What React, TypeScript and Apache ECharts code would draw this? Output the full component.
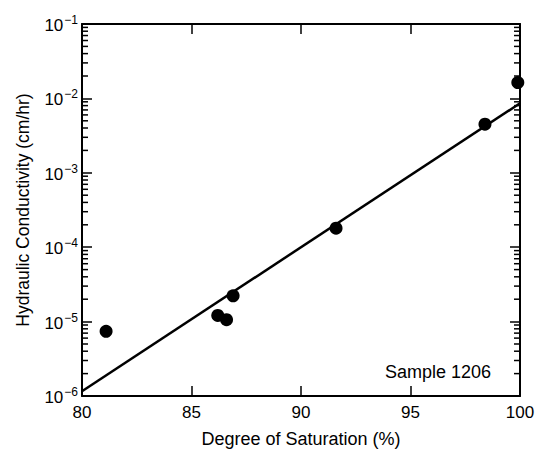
import React, { useEffect, useRef } from "react";
import * as echarts from "echarts";

const saturation = [81.1, 86.2, 86.6, 86.9, 91.6, 98.4, 99.9];
const conductivity = [7.4e-6, 1.21e-5, 1.06e-5, 2.22e-5, 1.8e-4, 4.5e-3, 1.63e-2];
const fitX = [80, 100];
const fitY = [1.16e-6, 8.6e-3];
const minorTickValues = [
  2e-6, 3e-6, 4e-6, 5e-6, 6e-6, 7e-6, 8e-6, 9e-6,
  2e-5, 3e-5, 4e-5, 5e-5, 6e-5, 7e-5, 8e-5, 9e-5,
  2e-4, 3e-4, 4e-4, 5e-4, 6e-4, 7e-4, 8e-4, 9e-4,
  2e-3, 3e-3, 4e-3, 5e-3, 6e-3, 7e-3, 8e-3, 9e-3,
  2e-2, 3e-2, 4e-2, 5e-2, 6e-2, 7e-2, 8e-2, 9e-2,
];
const sampleLabel = "Sample 1206";

const FONT = "Liberation Sans, Arial, Helvetica, sans-serif";

export default function App() {
  const ref = useRef<HTMLDivElement>(null);
  useEffect(() => {
    if (!ref.current) return;
    document.body.style.margin = "0";
    document.body.style.overflow = "hidden";
    const chart = echarts.init(ref.current, undefined, { renderer: "svg" });
    const axisLine = { show: true, lineStyle: { color: "#000", width: 2 } };
    const majorTick = { show: true, inside: true, length: 10, lineStyle: { color: "#000", width: 1.5 } };
    const yLabel = {
      show: true,
      margin: 4,
      formatter: (v: number) => {
        const e = Math.round(Math.log10(v));
        return `{b|10}{s|${e < 0 ? "\u2212" : ""}${Math.abs(e)}}`;
      },
      rich: {
        b: { fontSize: 17, fontFamily: FONT, color: "#000", verticalAlign: "bottom" },
        s: { fontSize: 12, fontFamily: FONT, color: "#000", verticalAlign: "bottom", padding: [0, 0, 8, 1] },
      },
    };
    chart.setOption({
      animation: false,
      backgroundColor: "#fff",
      grid: { left: 82, right: 19, top: 24, bottom: 50, containLabel: false },
      xAxis: [
        {
          type: "value",
          min: 80,
          max: 100,
          interval: 5,
          position: "bottom",
          name: "Degree of Saturation (%)",
          nameLocation: "middle",
          nameGap: 34,
          nameTextStyle: { fontSize: 18, fontFamily: FONT, color: "#000" },
          axisLine,
          axisTick: majorTick,
          axisLabel: { fontSize: 17, fontFamily: FONT, color: "#000", margin: 8 },
          splitLine: { show: false },
        },
        {
          type: "value",
          min: 80,
          max: 100,
          interval: 5,
          position: "top",
          axisLine,
          axisTick: majorTick,
          axisLabel: { show: false },
          splitLine: { show: false },
        },
      ],
      yAxis: [
        {
          type: "log",
          logBase: 10,
          min: 1e-6,
          max: 1e-1,
          position: "left",
          name: "Hydraulic Conductivity (cm/hr)",
          nameLocation: "middle",
          nameGap: 50,
          nameTextStyle: { fontSize: 17.5, fontFamily: FONT, color: "#000" },
          axisLine,
          axisTick: majorTick,
          axisLabel: yLabel,
          splitLine: { show: false },
        },
        {
          type: "log",
          logBase: 10,
          min: 1e-6,
          max: 1e-1,
          position: "right",
          axisLine,
          axisTick: majorTick,
          axisLabel: { show: false },
          splitLine: { show: false },
        },
      ],
      series: [
        {
          type: "custom",
          xAxisIndex: 0,
          yAxisIndex: 0,
          silent: true,
          clip: false,
          data: minorTickValues.map((v) => [80, v]),
          renderItem: (params: any, api: any) => {
            const v = api.value(1);
            const l = api.coord([80, v]);
            const r = api.coord([100, v]);
            const style = { stroke: "#000", lineWidth: 1.5 };
            return {
              type: "group",
              children: [
                { type: "line", shape: { x1: l[0], y1: l[1], x2: l[0] + 6, y2: l[1] }, style },
                { type: "line", shape: { x1: r[0], y1: r[1], x2: r[0] - 6, y2: r[1] }, style },
              ],
            };
          },
        },
        {
          type: "line",
          data: fitX.map((x, i) => [x, fitY[i]]),
          symbol: "none",
          lineStyle: { color: "#000", width: 2.5 },
        },
        {
          type: "scatter",
          data: saturation.map((x, i) => [x, conductivity[i]]),
          symbol: "circle",
          symbolSize: 13,
          itemStyle: { color: "#000", opacity: 1 },
        },
      ],
      graphic: [
        {
          type: "text",
          left: 385,
          top: 363,
          style: { text: sampleLabel, fontSize: 18, fontFamily: FONT, fill: "#000" },
        },
      ],
    });
    return () => chart.dispose();
  }, []);
  return (
    <div
      ref={ref}
      style={{ position: "fixed", left: 0, top: 0, width: 539, height: 453 }}
    />
  );
}
